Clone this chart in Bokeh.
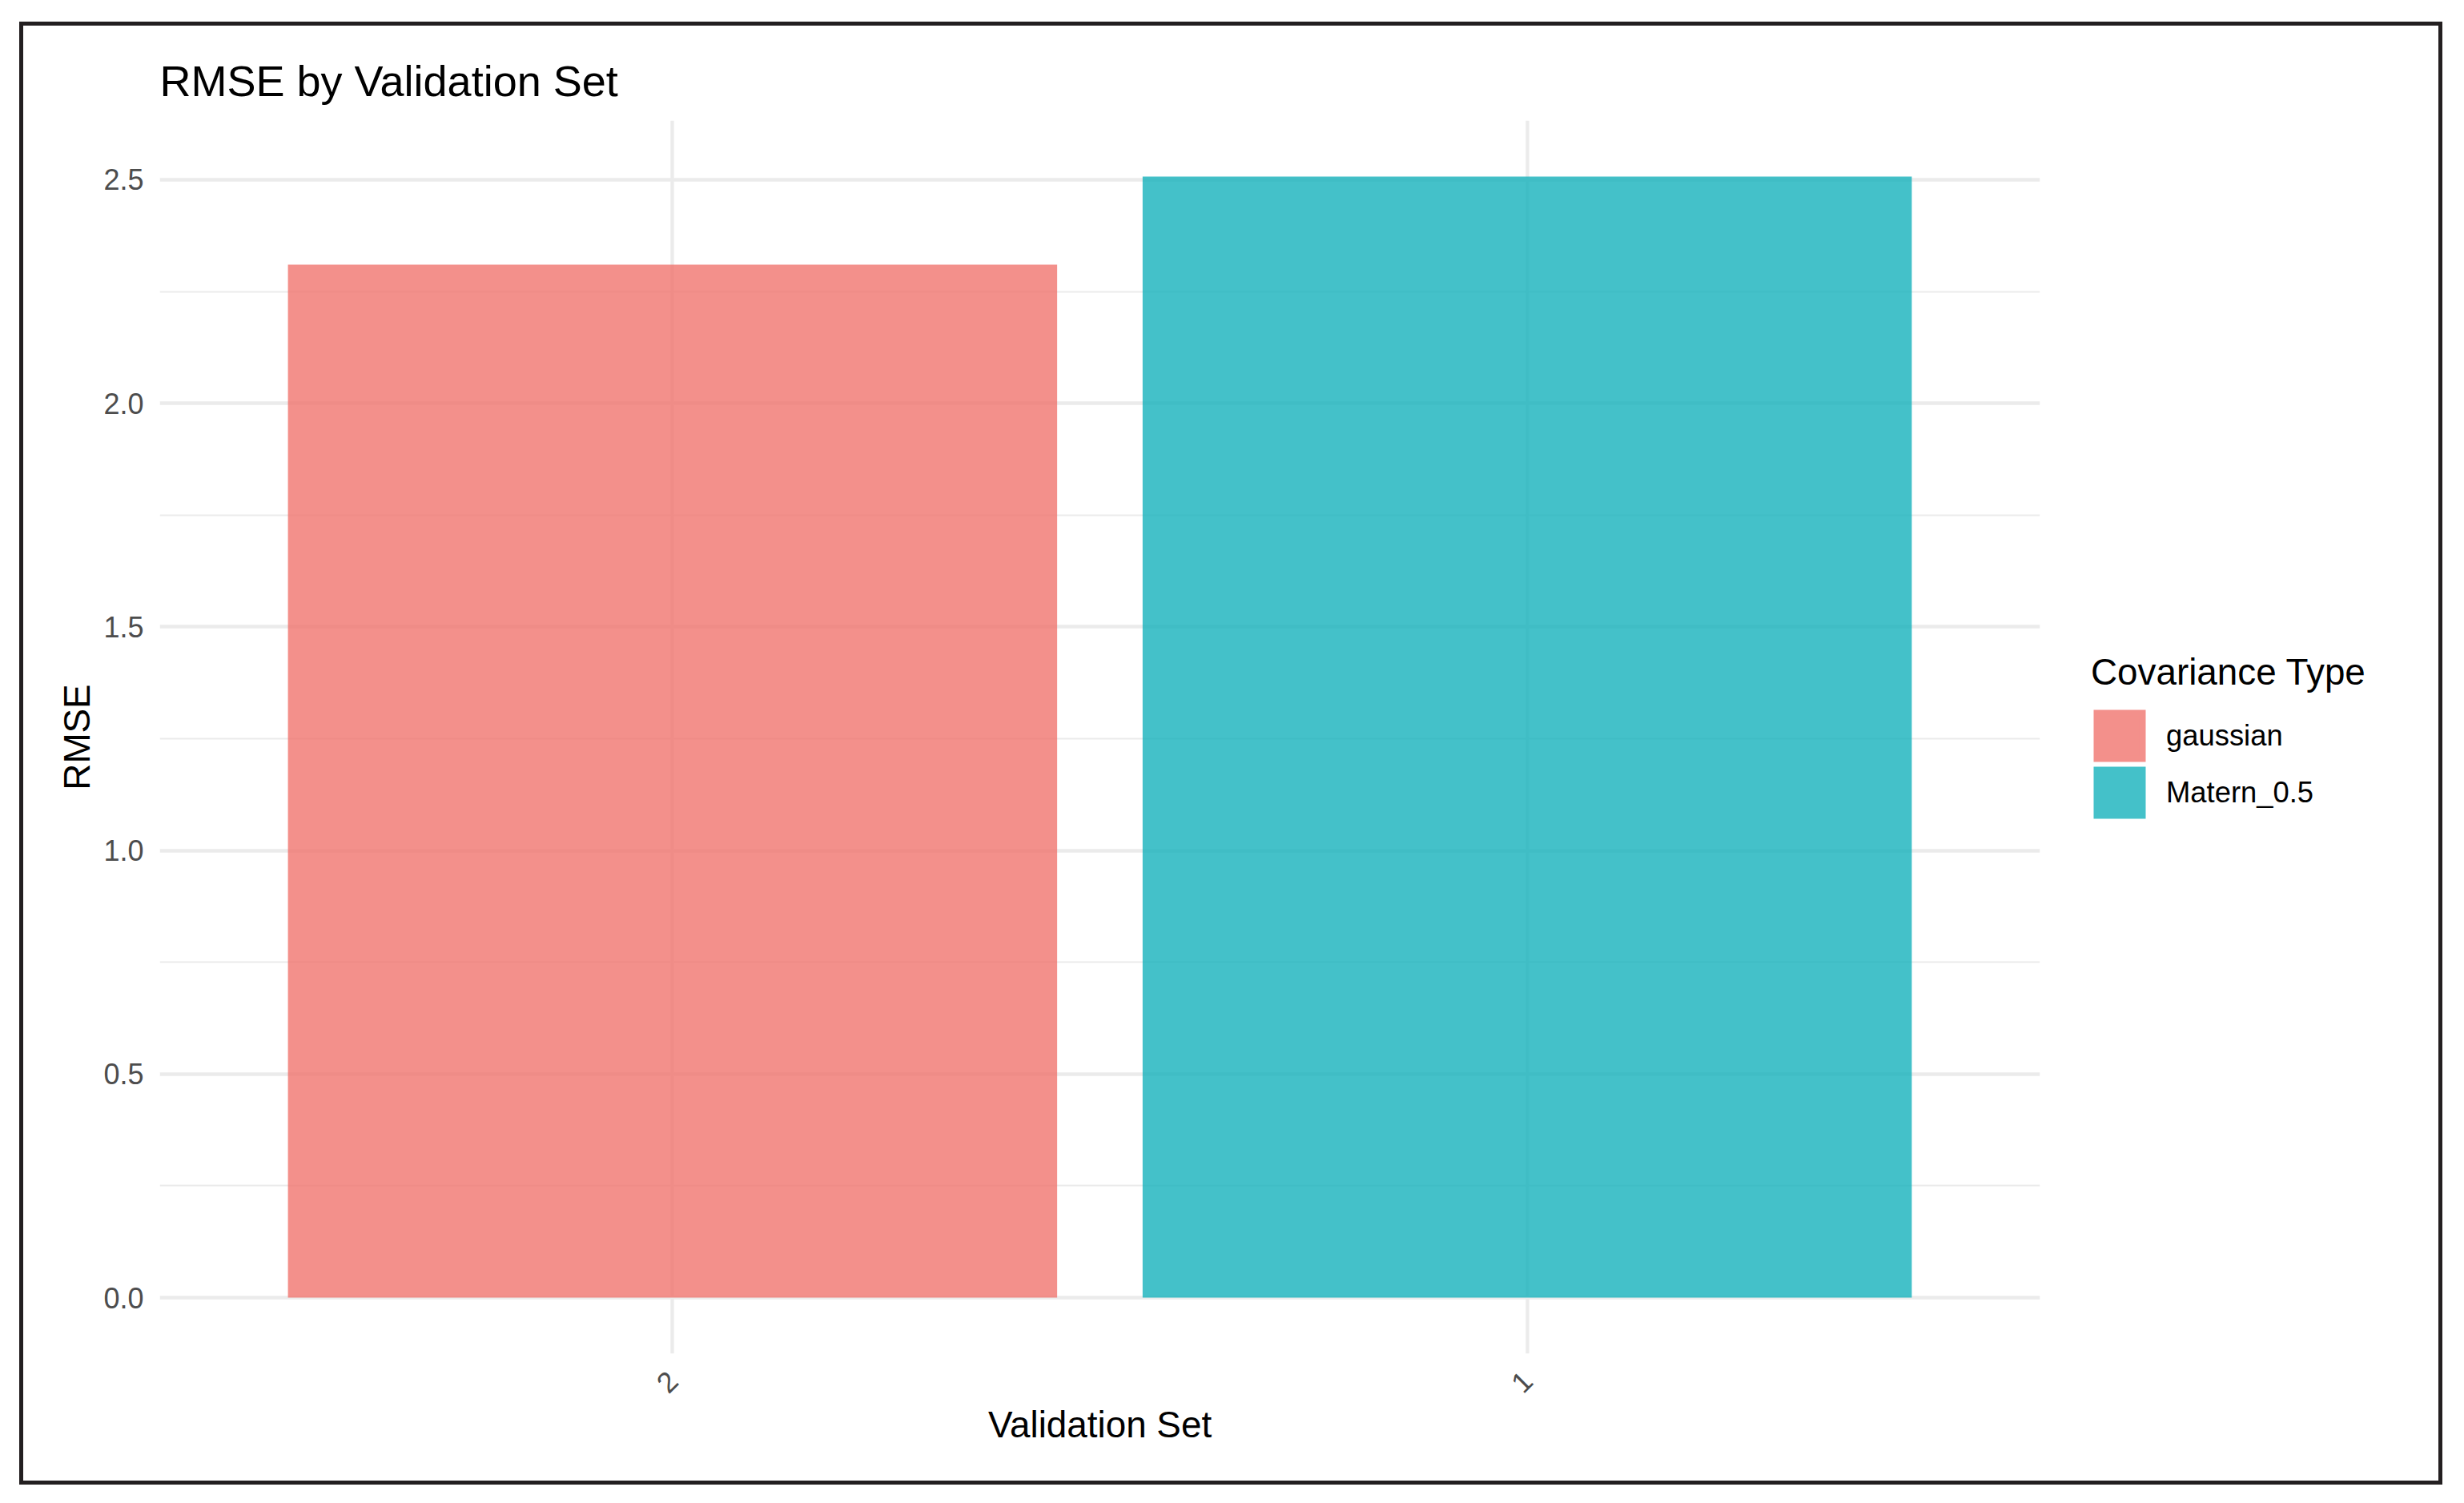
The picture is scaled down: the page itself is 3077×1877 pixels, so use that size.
import math
from bokeh.plotting import figure
from bokeh.layouts import row
from bokeh.models import (FactorRange, Range1d, FixedTicker, Legend, LegendItem,
                          ColumnDataSource, PrintfTickFormatter)
from bokeh.embed import file_html
from bokeh.resources import INLINE

# ---- data ----
categories = ["2", "1"]              # validation sets, in plotted order
rmse = [2.31, 2.507]                 # RMSE per validation set
cov_types = ["gaussian", "Matern_0.5"]
colors = ["#F0746E", "#15B2BC"]
y_ticks = [0.0, 0.5, 1.0, 1.5, 2.0, 2.5]
y_minor = [0.25, 0.75, 1.25, 1.75, 2.25]

FONT = "Liberation Sans"
BORDER = "5px solid #231f20"
ALPHA = 0.8
TOTAL_W, H = 3026, 1827
MAIN_W = 2548
LEG_W = TOTAL_W - MAIN_W
MB_TOP, MB_BOTTOM = 118, 169


def over_white(hex_color, a):
    h = hex_color.lstrip("#")
    rgb = [int(h[i:i + 2], 16) for i in (0, 2, 4)]
    return "#" + "".join("%02X" % round(a * c + (1 - a) * 255) for c in rgb)


key_colors = [over_white(c, ALPHA) for c in colors]

ymax = max(rmse)
pad = 0.05 * ymax

src = ColumnDataSource(dict(x=categories, top=rmse, cov=cov_types, color=colors))

# ---------------- main plot ----------------
p = figure(width=MAIN_W, height=H,
           x_range=FactorRange(*categories, range_padding=0.1),
           y_range=Range1d(-pad, ymax + pad),
           output_backend="svg", toolbar_location=None,
           min_border_left=170, min_border_right=30,
           min_border_top=MB_TOP, min_border_bottom=MB_BOTTOM)
p.styles = {"border-left": BORDER, "border-top": BORDER, "border-bottom": BORDER}

p.outline_line_color = None
p.background_fill_color = "white"
p.border_fill_color = "white"

r = p.vbar(x="x", top="top", width=0.9, source=src, fill_color="color",
           fill_alpha=ALPHA, line_color=None)

p.title.text = "RMSE by Validation Set"
p.title.text_font = FONT
p.title.text_font_size = "54px"
p.title.text_font_style = "normal"
p.title.text_color = "black"
p.title.align = "left"
p.title.standoff = 40

for ax in (p.xaxis[0], p.yaxis[0]):
    ax.axis_line_color = None
    ax.major_tick_line_color = None
    ax.minor_tick_line_color = None
    ax.major_tick_out = 0
    ax.major_tick_in = 0
    ax.minor_tick_out = 0
    ax.minor_tick_in = 0
    ax.major_label_text_font = FONT
    ax.major_label_text_font_size = "36px"
    ax.major_label_text_color = "#4D4D4D"
    ax.axis_label_text_font = FONT
    ax.axis_label_text_font_size = "45.8px"
    ax.axis_label_text_font_style = "normal"
    ax.axis_label_text_color = "black"

p.xaxis.axis_label = "Validation Set"
p.yaxis.axis_label = "RMSE"
p.yaxis.ticker = FixedTicker(ticks=y_ticks, minor_ticks=y_minor)
p.yaxis.formatter = PrintfTickFormatter(format="%.1f")
p.yaxis.major_label_standoff = 20
p.yaxis.axis_label_standoff = 4
p.xaxis.major_label_orientation = math.pi / 4
p.xaxis.major_label_standoff = 28
p.xaxis.axis_label_standoff = 0

p.xgrid.grid_line_color = "#EBEBEB"
p.xgrid.grid_line_width = 4.3
p.ygrid.grid_line_color = "#EBEBEB"
p.ygrid.grid_line_width = 4.3
p.ygrid.minor_grid_line_color = "#EBEBEB"
p.ygrid.minor_grid_line_width = 2.2

# ---------------- legend strip ----------------
lg = figure(width=LEG_W, height=H,
            x_range=FactorRange(*categories), y_range=Range1d(0, 1),
            output_backend="svg", toolbar_location=None,
            x_axis_location=None, y_axis_location=None,
            min_border_left=0, min_border_right=0,
            min_border_top=MB_TOP, min_border_bottom=MB_BOTTOM)
lg.styles = {"border-right": BORDER, "border-top": BORDER, "border-bottom": BORDER}
lg.outline_line_color = None
lg.grid.visible = False
lg.background_fill_color = "white"
lg.border_fill_color = "white"

# legend swatches only: no geometry (NaN), just the key colours
key_src = ColumnDataSource(dict(x=categories, top=[float("nan")] * len(categories),
                                key=key_colors))
rk = lg.vbar(x="x", top="top", width=0.9, source=key_src, fill_color="key", fill_alpha=1,
             line_color="key", line_width=8.2, line_join="miter")

items = [LegendItem(label=cov_types[i], renderers=[rk], index=i) for i in range(len(cov_types))]
legend = Legend(items=items, title="Covariance Type", location=(39, 665),
                glyph_width=71, glyph_height=71, spacing=0, label_standoff=23,
                padding=0, margin=0, border_line_color=None, background_fill_alpha=0,
                label_text_font=FONT, label_text_font_size="36.4px", label_text_color="black",
                title_text_font=FONT, title_text_font_size="45.8px",
                title_text_font_style="normal", title_text_color="black",
                title_standoff=17)
lg.add_layout(legend, "center")

layout = row(p, lg, spacing=0)
layout.styles = {"margin-left": "24px", "margin-top": "27px"}

open("out.html", "w").write(file_html(layout, INLINE))
